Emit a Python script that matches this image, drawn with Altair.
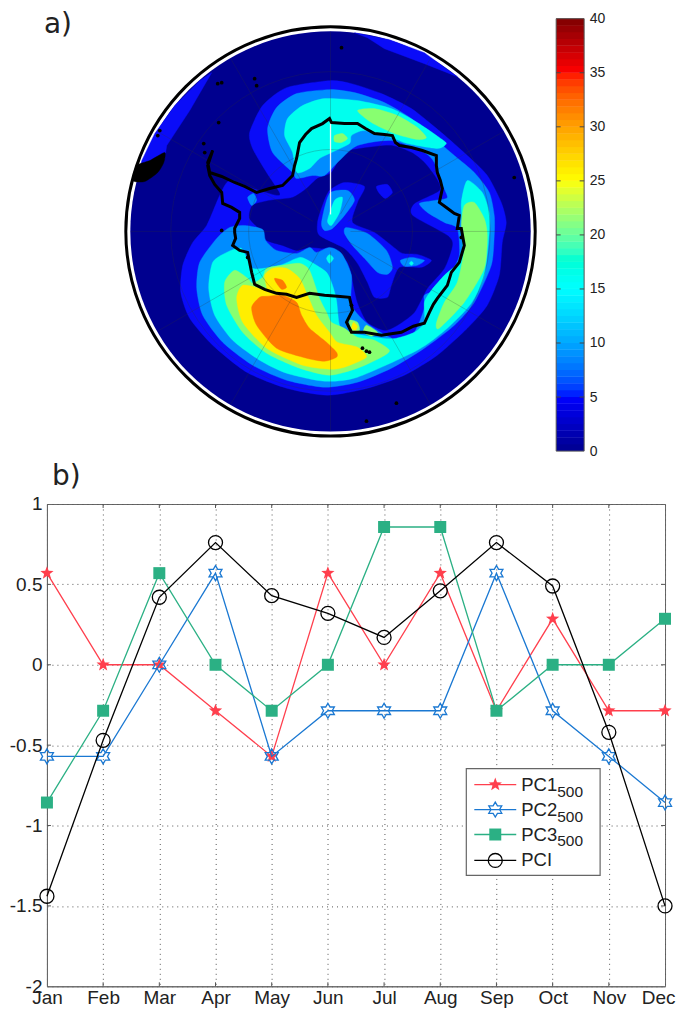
import math
import altair as alt
import pandas as pd

# ---------- panel b data ----------
months = ["Jan","Feb","Mar","Apr","May","Jun","Jul","Aug","Sep","Oct","Nov","Dec"]
pc1 = [0.57,0,0,-0.286,-0.57,0.57,0,0.57,-0.286,0.286,-0.286,-0.286]
pc2 = [-0.57,-0.57,0,0.57,-0.57,-0.286,-0.286,-0.286,0.57,-0.286,-0.57,-0.857]
pc3 = [-0.857,-0.286,0.57,0,-0.286,0,0.857,0.857,-0.286,0,0,0.286]
pci = [-1.44,-0.47,0.42,0.76,0.43,0.32,0.17,0.46,0.76,0.49,-0.42,-1.5]
y_ticks = [1,0.5,0,-0.5,-1,-1.5,-2]

# ---------- panel a data: contour outlines in map units ----------
level5 = [(330,80),(352,83),(382,93),(412,108),(442,132),(468,155),(488,175),(502,202),(507,222),(503,242),(500,275),(488,305),(468,328),(438,355),(405,375),(368,388),(328,395),(287,388),(247,372),(213,345),(190,318),(181,292),(183,265),(193,242),(207,225),(220,195),(230,180),(253,188),(277,195),(280,192),(267,172),(253,148),(250,132),(263,105),(287,87)]
hole = [(253,205),(270,200),(293,197),(307,188),(318,178),(332,172),(345,152),(368,147),(392,145),(412,152),(425,162),(437,178),(440,190),(415,203),(413,215),(448,235),(453,245),(445,268),(428,288),(415,312),(398,325),(385,330),(368,322),(358,302),(352,275),(348,262),(335,248),(322,248),(310,247),(297,250),(283,245),(267,240),(263,232),(250,218)]
island_a = [(330,190),(345,182),(365,186),(358,202),(353,222),(375,232),(392,245),(403,253),(418,254),(432,260),(422,267),(400,267),(392,285),(388,297),(375,297),(368,282),(358,263),(345,248),(320,235),(318,222),(323,205)]
island_b = [(377,186),(388,184),(393,192),(386,198),(380,193)]
level10 = [(293,172),(273,152),(268,128),(277,107),(297,93),(330,89),(355,92),(385,102),(412,118),(435,138),(455,155),(475,172),(490,192),(495,215),(495,235),(492,265),(475,302),(455,325),(425,348),(392,368),(358,382),(325,387),(287,380),(253,365),(223,342),(203,315),(197,288),(200,262),(217,238),(230,227),(245,225),(263,229),(266,240),(277,250),(297,253),(310,247),(317,252),(330,247),(342,253),(352,275),(352,305),(370,325),(398,340),(415,332),(425,308),(425,295),(437,290),(450,275),(460,255),(458,228),(445,222),(428,212),(420,203),(435,200),(448,197),(442,182),(435,162),(425,152),(392,140),(358,145),(340,160),(325,175),(313,175),(297,178)]
ridge_a = [(330,193),(348,190),(355,200),(345,215),(333,228),(325,230),(322,222)]
ridge_b = [(347,227),(368,233),(387,250),(393,267),(388,274),(378,272),(365,258),(353,245),(345,233)]
ridge_c = [(401,260),(412,257),(425,260),(418,265),(405,266)]
blob_a = [(248,197),(254,193),(257,200),(252,205)]
blob_b = [(323,258),(330,250),(337,258),(330,267)]
cyan_top = [(297,172),(293,152),(285,135),(288,118),(303,105),(325,98),(358,100),(392,108),(418,122),(440,137),(447,143),(438,148),(408,143),(392,137),(365,130),(352,135),(350,143),(332,152),(320,158),(310,168)]
cyan_ring = [(468,180),(483,192),(490,212),(490,232),(485,275),(472,303),(448,328),(418,350),(358,377),(325,381),(287,373),(260,360),(233,340),(215,315),(209,288),(213,262),(227,252),(242,248),(253,268),(280,265),(300,257),(312,262),(327,272),(333,285),(337,300),(340,325),(348,332),(383,338),(397,338),(415,332),(425,322),(425,302),(432,290),(445,275),(462,258),(463,225),(462,202)]
cyan_a = [(335,200),(343,197),(340,212),(332,225),(328,220)]
cyan_b = [(327,258),(330,254),(334,258),(330,263)]
cyan_c = [(410,263),(412,261),(414,263),(412,265)]
green_top = [(358,110),(375,108),(398,115),(418,127),(427,137),(418,139),(395,133),(372,122)]
green_blob = [(335,135),(343,133),(348,138),(342,142),(335,141)]
green_right = [(465,205),(475,202),(485,218),(488,235),(485,268),(465,302),(440,328),(437,323),(445,302),(458,282),(465,248),(462,225)]
green_low = [(235,270),(225,282),(227,305),(243,332),(267,353),(300,368),(330,375),(358,368),(382,357),(390,350),(375,340),(358,337),(345,328),(332,322),(327,312),(320,298),(310,270),(300,263),(283,265),(267,268),(263,277),(253,283),(248,278)]
green_c = [(367,325),(378,332),(372,336),(364,332)]
green_d = [(350,320),(358,322),(360,330),(352,331)]
yellow_low = [(243,285),(237,298),(243,322),(267,348),(303,365),(330,369),(345,367),(367,357),(358,347),(338,342),(330,332),(317,315),(308,295),(300,278),(287,268),(273,268),(265,275),(267,288),(260,288)]
yellow_d = [(354,322),(358,326),(356,330),(352,328)]
orange_low = [(260,297),(252,307),(257,325),(277,348),(307,358),(325,361),(337,357),(337,352),(327,342),(310,328),(302,315),(297,302),(283,295),(267,296)]
orange_small = [(275,278),(283,280),(287,287),(282,289),(277,283)]
edge_left = [(212,72),(200,80),(175,105),(155,133),(142,160),(138,175),(165,158),(167,145),(190,110)]
edge_right = [(355,32),(390,39),(425,52),(458,76),(425,63),(385,48),(368,37)]
coast = [(213,150),(208,162),(210,172),(222,176),(235,182),(245,186),(257,192),(270,188),(283,185),(293,175),(295,165),(297,158),(300,142),(306,134),(312,128),(323,123),(330,118),(332,122),(345,123),(358,123),(366,128),(375,133),(385,134),(393,135),(396,142),(400,145),(412,147),(423,150),(437,155),(437,165),(438,172),(441,180),(443,188),(440,202),(447,207),(455,213),(460,215),(458,228),(462,228),(465,245),(460,262),(452,272),(448,285),(438,298),(434,304),(430,312),(425,323),(414,326),(402,332),(382,335),(365,332),(352,332),(347,322),(353,310),(350,297),(338,296),(325,295),(310,293),(297,297),(287,294),(277,293),(265,289),(255,284),(252,272),(250,262),(248,252),(240,250),(233,245),(236,238),(235,232),(235,228),(240,218),(240,212),(232,207),(223,203),(222,192),(215,184),(210,175),(208,165),(213,150)]
samerica = [(133,180),(137,165),(150,160),(165,152),(164,162),(158,172),(145,181)]
islands = [(160,130),(158,135),(218,83),(222,82),(219,122),(204,143),(205,152),(255,78),(257,85),(342,47),(515,177),(397,403),(367,421),(363,348),(367,351),(370,352),(222,230),(248,257),(352,305),(462,237)]
bands = [i * 0.625 for i in range(64)]
cb_ticks = [0,5,10,15,20,25,30,35,40]

NAVY, BLUE, SKY, CYAN, GREEN, YELLOW, ORANGE = "#00008f", "#0a0cf8", "#008cff", "#00ffee", "#88ff70", "#ffee00", "#ff7a00"
PX = alt.Scale(domain=[47,557], nice=False, zero=False)
PY = alt.Scale(domain=[8,458], nice=False, zero=False, reverse=True)
X = lambda f="x": alt.X(f"{f}:Q", scale=PX, axis=None)
Y = lambda f="y": alt.Y(f"{f}:Q", scale=PY, axis=None)

def frame(pts):
    return pd.DataFrame({"x":[p[0] for p in pts],"y":[p[1] for p in pts],"i":list(range(len(pts)))})

def shape(pts, color, interp="cardinal-closed"):
    return alt.Chart(frame(pts)).mark_line(interpolate=interp, tension=0.3, fill=color, stroke=color, strokeWidth=0.4).encode(x=X(), y=Y(), order="i:Q")

def ring(r, color, width, opacity=1.0):
    return alt.Chart(frame([(331,231)])).mark_point(filled=False, size=(2*r)**2, stroke=color, strokeWidth=width, opacity=opacity).encode(x=X(), y=Y())

disc = alt.Chart(frame([(331,231)])).mark_point(filled=True, size=(2*200.5)**2, color=NAVY, opacity=1).encode(x=X(), y=Y())

spokes = []
for k in range(12):
    a = math.radians(30*k)
    spokes.append({"x":331+20*math.sin(a),"y":231+20*math.cos(a),"x2":331+200*math.sin(a),"y2":231+200*math.cos(a)})
spoke = alt.Chart(pd.DataFrame(spokes)).mark_rule(color="#333", strokeWidth=0.6, opacity=0.4).encode(x=X(), y=Y(), x2="x2:Q", y2="y2:Q")

seam = alt.Chart(pd.DataFrame({"x":[331],"y":[122],"y2":[214]})).mark_rule(color="white", strokeWidth=1.3, opacity=0.9).encode(x=X(), y=Y(), y2="y2:Q")
coastline = alt.Chart(frame(coast)).mark_line(color="black", strokeWidth=3, interpolate="linear").encode(x=X(), y=Y(), order="i:Q")
dots = alt.Chart(frame(islands)).mark_point(filled=True, color="black", size=14, opacity=1).encode(x=X(), y=Y())
label_a = alt.Chart(pd.DataFrame({"x":[44],"y":[32],"t":["a)"]})).mark_text(font="DejaVu Sans", fontSize=28, align="left", baseline="alphabetic", color="#222").encode(x=X(), y=Y(), text="t:N")

map_layers = [disc, shape(edge_left, BLUE, "linear-closed"), shape(edge_right, BLUE, "linear-closed"),
    shape(level5, BLUE), shape(hole, NAVY), shape(island_a, BLUE), shape(island_b, BLUE),
    shape(level10, SKY), shape(ridge_a, SKY), shape(ridge_b, SKY), shape(ridge_c, SKY), shape(blob_a, SKY), shape(blob_b, SKY),
    shape(cyan_top, CYAN), shape(cyan_ring, CYAN), shape(cyan_a, CYAN), shape(cyan_b, CYAN), shape(cyan_c, CYAN),
    shape(green_top, GREEN), shape(green_blob, GREEN), shape(green_right, GREEN), shape(green_low, GREEN), shape(green_c, GREEN), shape(green_d, GREEN),
    shape(yellow_low, YELLOW), shape(yellow_d, YELLOW), shape(orange_low, ORANGE), shape(orange_small, ORANGE),
    spoke, ring(82,"#333",0.6,0.4), ring(160,"#333",0.6,0.4), seam,
    shape(samerica, "black"), coastline, dots, ring(205,"black",3), label_a]
map_panel = alt.layer(*map_layers).properties(width=510, height=450)

# ---------- colour bar ----------
cb_y = alt.Scale(domain=[-7/10.825, 40+10/10.825], nice=False, zero=False)
cb_x = alt.Scale(domain=[0,1], nice=False)
cb_axis = alt.Axis(orient="right", values=cb_ticks, title=None, grid=False, domain=False, tickSize=0, labelPadding=5, labelFontSize=14, labelFont="Liberation Sans", labelColor="#222")
CY = lambda f: alt.Y(f"{f}:Q", scale=cb_y, axis=cb_axis)
cb_df = pd.DataFrame({"lo":bands,"hi":[b+0.66 for b in bands],"mid":[b+0.3125 for b in bands],"a":0,"b":1})
cb_rect = alt.Chart(cb_df).mark_rect().encode(
    x=alt.X("a:Q", scale=cb_x, axis=None), x2="b:Q",
    y=CY("lo"), y2="hi:Q",
    color=alt.Color("mid:Q", legend=None, scale=alt.Scale(domain=[0,5,15,25,35,40], range=["#00008f","#0000ff","#00ffff","#ffff00","#ff0000","#800000"])))
cb_box = alt.Chart(pd.DataFrame({"a":[0],"b":[1],"lo":[0],"hi":[40]})).mark_rect(fill=None, stroke="#555", strokeWidth=1).encode(
    x=alt.X("a:Q", scale=cb_x, axis=None), x2="b:Q", y=CY("lo"), y2="hi:Q")
cb_t = pd.DataFrame({"v":cb_ticks[1:-1]})
cb_ticks_l = alt.Chart(cb_t.assign(a=0,b=0.16)).mark_rule(color="#444").encode(x=alt.X("a:Q", scale=cb_x, axis=None), x2="b:Q", y=CY("v"))
cb_ticks_r = alt.Chart(cb_t.assign(a=0.84,b=1)).mark_rule(color="#444").encode(x=alt.X("a:Q", scale=cb_x, axis=None), x2="b:Q", y=CY("v"))
colorbar = alt.layer(cb_rect, cb_box, cb_ticks_l, cb_ticks_r).properties(width=28, height=450)

# ---------- line panel ----------
def star_path(n, ro, ri):
    pts = []
    for k in range(2*n):
        r = ro if k % 2 == 0 else ri
        a = math.pi*k/n
        pts.append(f"{r*math.sin(a):.3f},{-r*math.cos(a):.3f}")
    return "M" + "L".join(pts) + "Z"
STAR5 = star_path(5, 1, 0.42)
STAR6 = star_path(6, 1, 0.58)
RED, BLU, GRN = "#ff3f4d", "#1a78d2", "#2bb084"

xm = alt.Scale(type="point", domain=months, padding=0)
ym = alt.Scale(domain=[-2,1], nice=False, zero=False)
x_axis = alt.Axis(title=None, labelAngle=0, grid=True, gridDash=[1,4], gridColor="#555", tickSize=0, labelPadding=2, labelFontSize=19, labelFont="Liberation Sans", labelColor="#222", domainColor="#666",
    labelAlign={"condition":{"test":"datum.value === 'Dec'","value":"right"},"value":"center"},
    labelOffset={"condition":{"test":"datum.value === 'Dec'","value":10},"value":0})
y_axis = alt.Axis(title=None, values=y_ticks, grid=True, gridDash=[1,4], gridColor="#555", tickSize=0, labelPadding=5, labelFontSize=19, labelFont="Liberation Sans", labelColor="#222", domainColor="#666", labelExpr="'' + datum.value")
XM = alt.X("m:N", scale=xm, axis=x_axis, sort=months)
YM = alt.Y("v:Q", scale=ym, axis=y_axis)

def series(vals, color, shape_, size, filled, width=1.3):
    df = pd.DataFrame({"m":months,"v":vals})
    ln = alt.Chart(df).mark_line(color=color, strokeWidth=width).encode(x=XM, y=YM)
    pt = alt.Chart(df).mark_point(shape=shape_, size=size, filled=filled, color=color, strokeWidth=width, opacity=1).encode(x=XM, y=YM)
    return [ln, pt]

tick_df = pd.DataFrame({"v":y_ticks[1:-1]})
tm_df = pd.DataFrame({"m":months[1:-1]})
t1 = alt.Chart(tick_df).mark_rule(color="#555").encode(y=YM, x=alt.value(0), x2=alt.value(4))
t2 = alt.Chart(tick_df).mark_rule(color="#555").encode(y=YM, x=alt.value(615), x2=alt.value(619))
t3 = alt.Chart(tm_df).mark_rule(color="#555").encode(x=XM, y=alt.value(483), y2=alt.value(479))
t4 = alt.Chart(tm_df).mark_rule(color="#555").encode(x=XM, y=alt.value(0), y2=alt.value(4))

one = pd.DataFrame({"k":[0]})
leg_box = alt.Chart(one).mark_rect(fill="white", stroke="#666", strokeWidth=1.2, opacity=1).encode(x=alt.value(420), x2=alt.value(554), y=alt.value(265), y2=alt.value(372))
leg = [leg_box]
entries = [("PC1",RED,STAR5,196,True,281),("PC2",BLU,STAR6,225,False,306),("PC3",GRN,"square",144,True,331),("PCI","black","circle",196,False,357)]
for name,c,s,sz,fl,yy in entries:
    leg.append(alt.Chart(one).mark_rule(color=c, strokeWidth=1.3).encode(x=alt.value(428), x2=alt.value(470), y=alt.value(yy)))
    leg.append(alt.Chart(one).mark_point(shape=s, size=sz, filled=fl, color=c, strokeWidth=1.3, opacity=1).encode(x=alt.value(449), y=alt.value(yy)))
    leg.append(alt.Chart(pd.DataFrame({"t":[name]})).mark_text(align="left", baseline="alphabetic", font="Liberation Sans", fontSize=18.5, color="#222").encode(x=alt.value(475), y=alt.value(yy+6), text="t:N"))
    if name != "PCI":
        leg.append(alt.Chart(pd.DataFrame({"t":["500"]})).mark_text(align="left", baseline="alphabetic", font="Liberation Sans", fontSize=15.5, color="#222").encode(x=alt.value(511), y=alt.value(yy+12), text="t:N"))
label_b = alt.Chart(pd.DataFrame({"t":["b)"]})).mark_text(font="DejaVu Sans", fontSize=28, align="left", baseline="alphabetic", color="#222").encode(x=alt.value(5), y=alt.value(-19), text="t:N")

line_layers = [t1,t2,t3,t4] + series(pc1,RED,STAR5,196,True) + series(pc2,BLU,STAR6,225,False) + series(pc3,GRN,"square",144,True) + series(pci,"black","circle",196,False) + leg + [label_b]
line_panel = alt.layer(*line_layers).properties(width=619, height=483, view=alt.ViewBackground(stroke="#666", strokeWidth=1))

top = alt.hconcat(map_panel, colorbar, spacing=0, bounds="flush")
chart = alt.vconcat(top, line_panel, spacing=4).properties(
    padding={"left":0,"top":0,"right":0,"bottom":0}
).configure_view(stroke=None)
chart.save("out.html", embed_options={"renderer":"svg","actions":False})
